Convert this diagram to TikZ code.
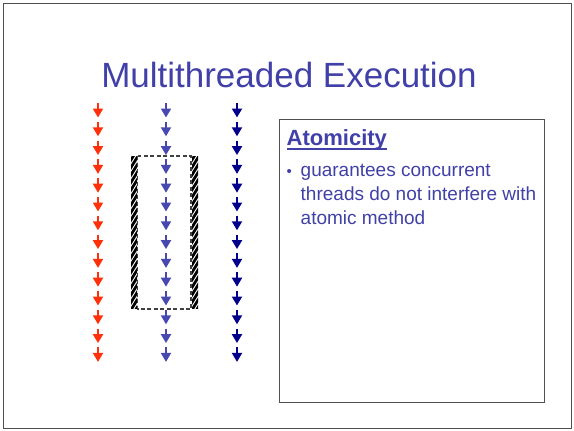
\documentclass[tikz,border=0pt]{standalone}
\usepackage{fontspec}
\setmainfont{Liberation Sans}
\usetikzlibrary{arrows.meta}
\definecolor{titleblue}{RGB}{64,64,168}
\definecolor{threadred}{RGB}{255,48,10}
\definecolor{threadmid}{RGB}{72,72,176}
\definecolor{threaddark}{RGB}{0,0,140}
\definecolor{framegray}{RGB}{80,80,80}
\tikzset{
  thread/.style={line width=2pt, -{Triangle[width=10pt,length=9pt]}},
  txt/.style={inner sep=0pt, anchor=base west, text=titleblue},
  frame/.style={draw=framegray, line width=1.1pt},
}
\begin{document}
\begin{tikzpicture}[x=1pt,y=-1pt]
  \useasboundingbox (0,0) rectangle (574,431);
  % slide frame
  \draw[frame] (3.5,3.5) rectangle (571.5,428.5);
  % title
  \node[inner sep=0pt, anchor=base, text=titleblue, font=\fontsize{35}{40}\selectfont] (title) at (289,87) {Multithreaded Execution};

  % three threads, each a column of short arrows
  \foreach \i in {0,...,13} {
    \pgfmathsetmacro{\ya}{103+18.8*\i}
    \coordinate (r\i) at (98,\ya);
    \coordinate (m\i) at (166,\ya);
    \coordinate (d\i) at (237,\ya);
    \draw[thread, threadred]  (r\i) -- ++(0,14.5);
    \draw[thread, threadmid]  (m\i) -- ++(0,14.5);
    \draw[thread, threaddark] (d\i) -- ++(0,14.5);
  }

  % atomic region: hatched side bars and dashed box
  \foreach \xa in {131,192} {
    \begin{scope}
      \clip (\xa,156) rectangle (\xa+6,308.5);
      \fill[white] (\xa,156) rectangle (\xa+6,308.5);
      \foreach \k in {0,...,22} {
        \draw[black, line width=2.8pt] (\xa-2,163+7.5*\k) -- (\xa+8,147+7.5*\k);
      }
    \end{scope}
  }
  \draw[black!75, line width=1.2pt, dash pattern=on 4pt off 2.5pt] (137.5,156) rectangle (191,309) node (atomicbox) {};

  % text box on the right
  \draw[frame, line width=1pt] (279.5,119.5) rectangle (544.5,402.5);
  \node[txt, font=\fontsize{22}{26}\selectfont\bfseries] (head) at (286.5,145) {Atomicity};
  \draw[titleblue, line width=1.6pt] ([yshift=-4pt]head.base west) -- ([yshift=-4pt]head.base east);
  \node[txt, font=\fontsize{15}{18}\selectfont] (bullet) at (286.5,176) {•};
  \node[txt, font=\fontsize{19}{24}\selectfont] (l1) at (300.5,176.7) {guarantees concurrent};
  \node[txt, font=\fontsize{19}{24}\selectfont] (l2) at (300.5,200.7) {threads do not interfere with};
  \node[txt, font=\fontsize{19}{24}\selectfont] (l3) at (300.5,224.7) {atomic method};
\end{tikzpicture}
\end{document}
